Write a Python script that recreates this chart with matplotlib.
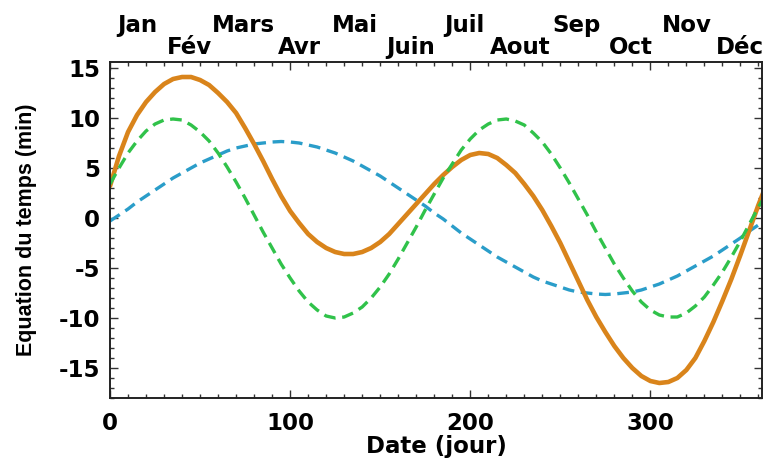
import matplotlib
matplotlib.use('Agg')
matplotlib.rcParams['axes.unicode_minus'] = False
import matplotlib.pyplot as plt
from matplotlib.ticker import MultipleLocator

# jours de l'annee (releves tous les 5 jours sur le graphe)
jours = [0, 5, 10, 15, 20, 25, 30, 35, 40, 45,
         50, 55, 60, 65, 70, 75, 80, 85, 90, 95,
         100, 105, 110, 115, 120, 125, 130, 135, 140, 145,
         150, 155, 160, 165, 170, 175, 180, 185, 190, 195,
         200, 205, 210, 215, 220, 225, 230, 235, 240, 245,
         250, 255, 260, 265, 270, 275, 280, 285, 290, 295,
         300, 305, 310, 315, 320, 325, 330, 335, 340, 345,
         350, 355, 360, 365]

# equation du temps totale (courbe orange)
eq_temps = [3.2, 6.2, 8.6, 10.3, 11.6, 12.6, 13.4, 13.9, 14.1, 14.1,
            13.8, 13.3, 12.5, 11.6, 10.5, 9.0, 7.4, 5.7, 3.9, 2.2,
            0.7, -0.5, -1.6, -2.4, -3.0, -3.4, -3.6, -3.6, -3.4, -3.0,
            -2.4, -1.6, -0.6, 0.4, 1.4, 2.4, 3.4, 4.3, 5.1, 5.8,
            6.3, 6.5, 6.4, 6.0, 5.3, 4.5, 3.4, 2.2, 0.8, -0.8,
            -2.5, -4.4, -6.3, -8.2, -9.9, -11.4, -12.8, -14.0, -15.0, -15.8,
            -16.3, -16.5, -16.4, -16.0, -15.2, -14.0, -12.3, -10.4, -8.3, -6.1,
            -3.7, -1.2, 1.3, 3.6]

# effet de l'obliquite (tirets verts)
obliquite = [3.4, 5.0, 6.5, 7.7, 8.7, 9.4, 9.8, 9.9, 9.8, 9.3,
             8.6, 7.7, 6.5, 5.1, 3.6, 2.0, 0.3, -1.4, -3.0, -4.6,
             -6.0, -7.3, -8.4, -9.2, -9.8, -10.0, -9.9, -9.5, -8.9, -8.0,
             -6.9, -5.6, -4.1, -2.5, -0.9, 0.8, 2.4, 4.0, 5.4, 6.8,
             7.9, 8.8, 9.4, 9.8, 9.9, 9.7, 9.3, 8.5, 7.6, 6.4,
             5.0, 3.5, 1.9, 0.3, -1.4, -3.0, -4.6, -6.0, -7.3, -8.4,
             -9.2, -9.7, -9.9, -9.9, -9.5, -8.8, -7.9, -6.7, -5.4, -3.9,
             -2.3, -0.6, 1.1, 2.6]

# effet de l'excentricite (tirets bleus)
excentricite = [-0.3, 0.3, 0.9, 1.6, 2.2, 2.8, 3.4, 4.0, 4.5, 5.0,
                5.5, 5.9, 6.3, 6.7, 7.0, 7.2, 7.4, 7.5, 7.6, 7.65,
                7.6, 7.5, 7.3, 7.1, 6.8, 6.5, 6.1, 5.7, 5.2, 4.7,
                4.2, 3.6, 3.0, 2.4, 1.8, 1.2, 0.5, -0.1, -0.8, -1.5,
                -2.1, -2.7, -3.3, -3.9, -4.4, -4.9, -5.4, -5.9, -6.3, -6.6,
                -6.9, -7.2, -7.4, -7.5, -7.6, -7.65, -7.6, -7.5, -7.4, -7.2,
                -6.9, -6.6, -6.2, -5.8, -5.3, -4.8, -4.3, -3.8, -3.2, -2.6,
                -2.0, -1.3, -0.7, -0.1]

mois = ['Jan', 'Fév', 'Mars', 'Avr', 'Mai', 'Juin', 'Juil', 'Aout', 'Sep',
        'Oct', 'Nov', 'Déc']
milieu_mois = [15, 44, 74, 105, 136, 167, 197, 228, 259, 289, 320, 350]

fig = plt.figure(figsize=(7.63, 4.59), dpi=100)
ax = fig.add_axes([0.1442, 0.1329, 0.8545, 0.732])

ax.plot(jours, excentricite, color='#2a9dc9', lw=2.4, dashes=(3.5, 2.0))
ax.plot(jours, eq_temps, color='#d9841b', lw=3.3, solid_capstyle='round',
        solid_joinstyle='round')
ax.plot(jours, obliquite, color='#30c24a', lw=2.4, dashes=(3.5, 2.0))

ax.set_xlim(0, 362)
ax.set_ylim(-18, 15.6)

ax.xaxis.set_major_locator(MultipleLocator(100))
ax.xaxis.set_minor_locator(MultipleLocator(10))
ax.yaxis.set_major_locator(MultipleLocator(5))
ax.yaxis.set_minor_locator(MultipleLocator(1))
ax.tick_params(which='both', direction='in', top=True, right=True,
               width=1.0, color='#333333')
ax.tick_params(which='major', length=6)
ax.tick_params(which='minor', length=3)
ax.tick_params(axis='x', which='major', pad=10)
ax.tick_params(axis='y', which='major', pad=7)
for spine in ax.spines.values():
    spine.set_linewidth(1.4)
    spine.set_color('#222222')

for lab in ax.get_xticklabels() + ax.get_yticklabels():
    lab.set_fontfamily('DejaVu Sans')
    lab.set_fontweight('bold')
    lab.set_fontsize(16.5)

ax.set_xlabel('Date (jour)', fontsize=16.5, fontweight='bold',
              family='DejaVu Sans', labelpad=0)
ax.set_ylabel('Equation du temps (min)', fontsize=15.5, fontweight='bold',
              family='Liberation Sans', labelpad=16)

trans = ax.get_xaxis_transform()
for i, (nom, j) in enumerate(zip(mois, milieu_mois)):
    y = 1.110 if i % 2 == 0 else 1.042
    ax.text(j, y, nom, transform=trans, ha='center', va='center',
            fontsize=16.5, fontweight='bold', family='DejaVu Sans',
            clip_on=False)

fig.savefig('out.png', dpi=100)
